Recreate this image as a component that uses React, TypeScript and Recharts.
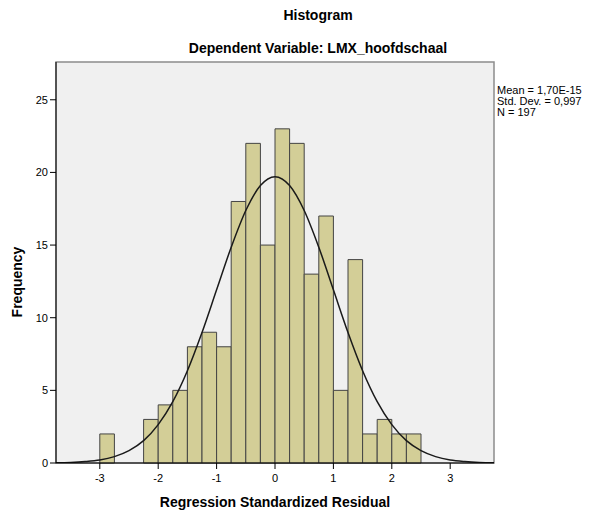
import { ComposedChart, Line, XAxis, YAxis, ReferenceArea } from "recharts";

// histogram bins (width 0.25), counts
const binStarts = [
  -3, -2.75, -2.5, -2.25, -2, -1.75, -1.5, -1.25, -1, -0.75, -0.5, -0.25, 0,
  0.25, 0.5, 0.75, 1, 1.25, 1.5, 1.75, 2, 2.25,
];
const counts = [
  2, 0, 0, 3, 4, 5, 8, 9, 8, 18, 22, 15, 23, 22, 13, 17, 5, 14, 2, 3, 2, 2,
];
const binWidth = 0.25;

// normal curve
const curveX = [
  -3.75, -3.5, -3.25, -3, -2.75, -2.5, -2.25, -2, -1.75, -1.5, -1.25, -1,
  -0.75, -0.5, -0.25, 0, 0.25, 0.5, 0.75, 1, 1.25, 1.5, 1.75, 2, 2.25, 2.5,
  2.75, 3, 3.25, 3.5, 3.75,
];
const curveY = [
  0.02, 0.04, 0.1, 0.21, 0.44, 0.85, 1.54, 2.64, 4.22, 6.35, 8.98, 11.92,
  14.85, 17.38, 19.1, 19.71, 19.1, 17.38, 14.85, 11.92, 8.98, 6.35, 4.22,
  2.64, 1.54, 0.85, 0.44, 0.21, 0.1, 0.04, 0.02,
];

const xTicks = [-3, -2, -1, 0, 1, 2, 3];
const yTicks = [0, 5, 10, 15, 20, 25];
const statLines = ["Mean = 1,70E-15", "Std. Dev. = 0,997", "N = 197"];

const curveData = curveX.map((x, i) => ({ x, y: curveY[i] }));

const font = "'Liberation Sans', Arial, sans-serif";

export default function App() {
  return (
    <div
      style={{
        position: "absolute",
        left: 0,
        top: 0,
        width: 590,
        height: 515,
        background: "#fff",
        fontFamily: font,
      }}
    >
      <ComposedChart
        width={590}
        height={515}
        data={curveData}
        margin={{ top: 62, right: 96, left: 0, bottom: 22 }}
      >
        <XAxis
          dataKey="x"
          type="number"
          domain={[-3.75, 3.75]}
          allowDataOverflow
          ticks={xTicks}
          height={30}
          stroke="#000"
          tickSize={6}
          tick={{ fill: "#000", fontSize: 11, fontFamily: font, dy: 3 }}
        />
        <YAxis
          type="number"
          domain={[0, 27.6]}
          allowDataOverflow
          ticks={yTicks}
          width={56}
          stroke="#000"
          tickSize={6}
          tick={{ fill: "#000", fontSize: 11, fontFamily: font }}
        />
        <ReferenceArea
          x1={-3.75}
          x2={3.75}
          y1={0}
          y2={27.6}
          fill="#f0f0f0"
          fillOpacity={1}
          stroke="#8c8c8c"
          strokeWidth={1.5}
        />
        {binStarts.map((b, i) =>
          counts[i] > 0 ? (
            <ReferenceArea
              key={b}
              x1={b}
              x2={b + binWidth}
              y1={0}
              y2={counts[i]}
              fill="#d3ce97"
              fillOpacity={1}
              stroke="#444"
              strokeWidth={1}
            />
          ) : null
        )}
        <Line
          dataKey="y"
          type="monotone"
          stroke="#1a1a1a"
          strokeWidth={1.5}
          dot={false}
          isAnimationActive={false}
        />
      </ComposedChart>

      <div
        style={{
          position: "absolute",
          left: 0,
          width: 636,
          top: 7,
          textAlign: "center",
          fontWeight: "bold",
          fontSize: 14,
        }}
      >
        Histogram
      </div>
      <div
        style={{
          position: "absolute",
          left: 0,
          width: 636,
          top: 40,
          textAlign: "center",
          fontWeight: "bold",
          fontSize: 14,
        }}
      >
        Dependent Variable: LMX_hoofdschaal
      </div>
      <div
        style={{
          position: "absolute",
          left: 0,
          width: 550,
          top: 494,
          textAlign: "center",
          fontWeight: "bold",
          fontSize: 14,
        }}
      >
        Regression Standardized Residual
      </div>
      <div
        style={{
          position: "absolute",
          left: 17,
          top: 282,
          transform: "translate(-50%, -50%) rotate(-90deg)",
          fontWeight: "bold",
          fontSize: 14,
          whiteSpace: "nowrap",
        }}
      >
        Frequency
      </div>
      <div
        style={{
          position: "absolute",
          left: 497,
          top: 85,
          fontSize: 11,
          lineHeight: "11px",
        }}
      >
        {statLines.map((s) => (
          <div key={s}>{s}</div>
        ))}
      </div>
    </div>
  );
}
